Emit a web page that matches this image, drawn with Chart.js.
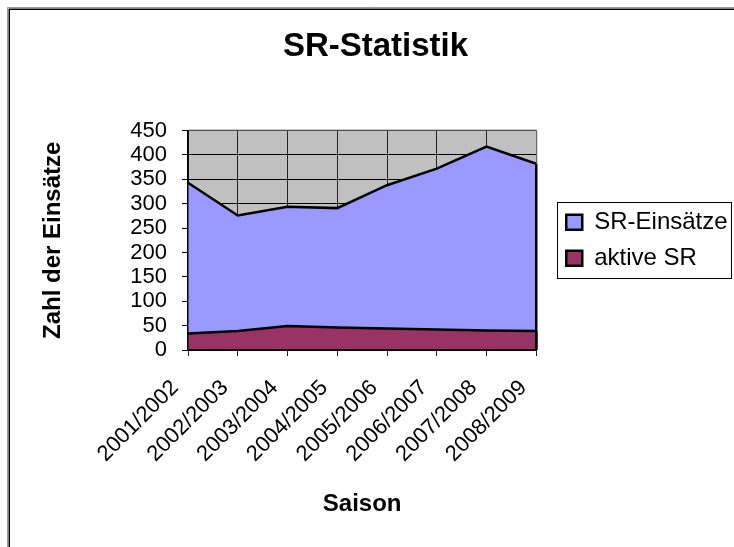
<!DOCTYPE html>
<html>
<head>
<meta charset="utf-8">
<title>SR-Statistik</title>
<script src="https://cdn.jsdelivr.net/npm/chart.js@4.4.1/dist/chart.umd.min.js"></script>
<style>
    html, body { margin: 0; padding: 0; background: #fff; }
    #wrap { width: 734px; height: 547px; }
</style>
</head>
<body>
<div id="wrap"><canvas id="sr-chart" width="734" height="547"></canvas></div>
<script>
// Seasons on the x axis
var seasons = ['2001/2002', '2002/2003', '2003/2004', '2004/2005', '2005/2006', '2006/2007', '2007/2008', '2008/2009'];

// Values
var srEinsaetze = [343, 276, 294, 291, 338, 372, 417, 382];
var aktiveSR = [34, 39, 49, 46, 44, 42, 40, 39];

// y axis range
var yMin = 0;
var yMax = 450;
var yStep = 50;

Chart.defaults.font.family = '"Liberation Sans", Arial, sans-serif';
Chart.defaults.color = '#000';

// Grey plot background, outer frame and legend box (Excel look)
var excelLook = {
    id: 'excelLook',
    beforeDraw: function(chart) {
        var ctx = chart.ctx;
        var a = chart.chartArea;
        ctx.save();
        ctx.fillStyle = '#fff';
        ctx.fillRect(0, 0, chart.width, chart.height);
        // outer frame (top and left edge visible)
        ctx.strokeStyle = '#999';
        ctx.lineWidth = 1;
        ctx.beginPath();
        ctx.moveTo(chart.width, 7.5);
        ctx.lineTo(7.5, 7.5);
        ctx.lineTo(7.5, chart.height);
        ctx.stroke();
        ctx.strokeStyle = '#000';
        ctx.lineWidth = 1.5;
        ctx.beginPath();
        ctx.moveTo(chart.width, 9.25);
        ctx.lineTo(9.25, 9.25);
        ctx.lineTo(9.25, chart.height);
        ctx.stroke();
        // plot area
        ctx.fillStyle = '#c0c0c0';
        ctx.fillRect(a.left, a.top, a.right - a.left, a.bottom - a.top);
        ctx.restore();
    },
    afterLayout: function(chart) {
        // legend sits a bit away from the plot area and may use the full right margin
        var lg = chart.legend;
        lg.left = chart.chartArea.right + 18;
        lg.right = chart.width - 2;
        lg.width = lg.right - lg.left;
    },
    afterDatasetsDraw: function(chart) {
        // right-hand edge of each area, like Excel's area border
        var ctx = chart.ctx;
        var yScale = chart.scales.y;
        ctx.save();
        ctx.strokeStyle = '#000';
        ctx.lineWidth = 2.5;
        chart.data.datasets.forEach(function(ds, i) {
            var pts = chart.getDatasetMeta(i).data;
            var last = pts[pts.length - 1];
            ctx.beginPath();
            ctx.moveTo(last.x, last.y);
            ctx.lineTo(last.x, yScale.getPixelForValue(0));
            ctx.stroke();
        });
        // plot border
        var a = chart.chartArea;
        ctx.strokeStyle = '#808080';
        ctx.lineWidth = 1;
        ctx.beginPath();
        ctx.moveTo(a.left, a.top - 0.5);
        ctx.lineTo(a.right + 0.5, a.top - 0.5);
        ctx.lineTo(a.right + 0.5, yScale.getPixelForValue(srEinsaetze[srEinsaetze.length - 1]));
        ctx.stroke();
        ctx.restore();
    },
    afterDraw: function(chart) {
        var lg = chart.legend;
        var hb = lg.legendHitBoxes;
        if (!hb || !hb.length) return;
        var ctx = chart.ctx;
        var left = hb[0].left - 9;
        var top = hb[0].top - 8;
        var right = lg.right - 1;
        var bottom = hb[hb.length - 1].top + hb[hb.length - 1].height + 8;
        ctx.save();
        ctx.strokeStyle = '#000';
        ctx.lineWidth = 1;
        ctx.strokeRect(Math.round(left) + 0.5, Math.round(top) + 0.5, Math.round(right - left), Math.round(bottom - top));
        ctx.restore();
    }
};

var ctx = document.getElementById('sr-chart').getContext('2d');
var srChart = new Chart(ctx, {
    type: 'line',
    data: {
        labels: seasons,
        datasets: [{
            label: 'aktive SR',
            data: aktiveSR,
            fill: 'origin',
            backgroundColor: '#993366',
            borderColor: '#000',
            borderWidth: 2.5,
            pointRadius: 0,
            tension: 0
        }, {
            label: 'SR-Einsätze',
            data: srEinsaetze,
            fill: 'origin',
            backgroundColor: '#9999ff',
            borderColor: '#000',
            borderWidth: 2.5,
            pointRadius: 0,
            tension: 0
        }]
    },
    options: {
        responsive: false,
        animation: false,
        events: [],
        layout: {
            padding: { left: 54, right: 37, top: 0, bottom: 0 }
        },
        plugins: {
            title: {
                display: true,
                text: 'SR-Statistik',
                color: '#000',
                font: { size: 33, weight: 'bold' },
                padding: { top: 27, bottom: 64 }
            },
            legend: {
                position: 'right',
                fullSize: false,
                reverse: true,
                labels: {
                    boxWidth: 16,
                    boxHeight: 15,
                    padding: 12,
                    color: '#000',
                    font: { size: 24 }
                }
            },
            tooltip: { enabled: false }
        },
        scales: {
            x: {
                offset: false,
                grid: {
                    color: '#222',
                    lineWidth: 1,
                    tickLength: 6,
                    offset: false
                },
                border: { color: '#000', width: 2, z: 1 },
                ticks: {
                    autoSkip: false,
                    minRotation: 45,
                    maxRotation: 45,
                    padding: 19,
                    labelOffset: -13,
                    color: '#000',
                    font: { size: 22 }
                },
                title: {
                    display: true,
                    text: 'Saison',
                    color: '#000',
                    font: { size: 24, weight: 'bold' },
                    padding: { top: 0, bottom: 28 }
                },
                afterFit: function(scale) { scale.height = 197; }
            },
            y: {
                min: yMin,
                max: yMax,
                grid: {
                    color: '#000',
                    lineWidth: 1,
                    tickLength: 6
                },
                border: { color: '#000', width: 1.5, z: 1 },
                ticks: {
                    stepSize: yStep,
                    autoSkip: false,
                    padding: 15,
                    color: '#000',
                    font: { size: 22 }
                },
                title: {
                    display: true,
                    text: 'Zahl der Einsätze',
                    color: '#000',
                    font: { size: 24, weight: 'bold', lineHeight: 1 },
                    padding: { top: -13, bottom: 0 }
                },
                afterFit: function(scale) { scale.width = 134; }
            }
        }
    },
    plugins: [excelLook]
});
</script>
</body>
</html>
